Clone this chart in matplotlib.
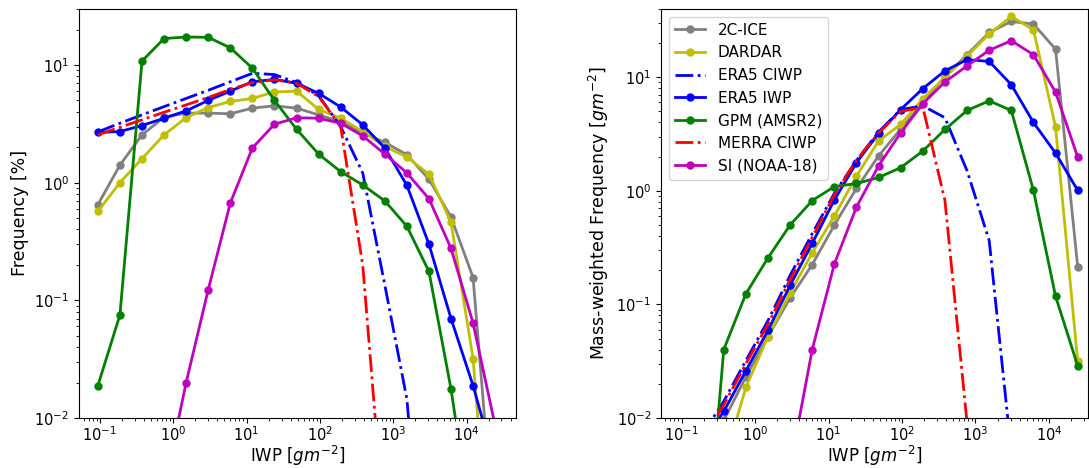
import matplotlib
matplotlib.use("Agg")
import matplotlib.pyplot as plt
import numpy as np

nan = np.nan

# IWP bin centres [g m^-2]
iwp = [0.09375, 0.1875, 0.375, 0.75, 1.5, 3, 6, 12, 24, 48, 96, 192, 384,
       768, 1536, 3072, 6144, 12288, 24576]

labels = ["2C-ICE", "DARDAR", "ERA5 CIWP", "ERA5 IWP", "GPM (AMSR2)",
          "MERRA CIWP", "SI (NOAA-18)"]

# left panel: frequency [%]
freq_2cice = [0.65, 1.41, 2.55, 3.6, 3.9, 3.9, 3.85, 4.3, 4.5, 4.3, 3.77, 3.3,
              2.64, 2.2, 1.73, 1.07, 0.51, 0.156, 0.0008]
freq_dardar = [0.57, 1.0, 1.6, 2.55, 3.57, 4.35, 4.9, 5.2, 5.9, 6.0, 4.2, 3.53,
               2.72, 2.03, 1.65, 1.18, 0.46, 0.032, 0.00013]
freq_era5_ciwp = [2.7, 3.2, 3.77, 4.43, 5.2, 6.1, 7.2, 8.5, 8.3, 7.1, 5.5, 3.0,
                  1.21, 0.135, 0.0145, 0.0001, nan, nan, nan]
freq_era5_iwp = [2.67, 2.72, 3.06, 3.53, 4.08, 5.0, 6.0, 7.2, 7.55, 7.0, 5.75,
                 4.4, 3.1, 1.97, 0.95, 0.30, 0.070, 0.0188, 0.004]
freq_gpm = [0.0188, 0.075, 10.8, 16.8, 17.3, 17.2, 14.0, 9.4, 5.0, 2.85, 1.75,
            1.24, 0.956, 0.70, 0.426, 0.176, 0.0176, 0.001, nan]
freq_merra = [2.55, 2.96, 3.42, 3.97, 4.58, 5.3, 6.2, 7.1, 7.5, 7.0, 5.4, 3.0,
              0.2, 0.001, nan, nan, nan, nan, nan]
freq_si = [nan, nan, nan, 0.0025, 0.020, 0.123, 0.67, 1.97, 3.14, 3.56, 3.53,
           3.2, 2.5, 1.75, 1.21, 0.73, 0.276, 0.064, 0.0086]

# right panel: mass-weighted frequency [g m^-2]
mw_2cice = [nan, 0.0005, 0.0095, 0.023, 0.052, 0.114, 0.224, 0.50, 1.05, 2.03,
            3.5, 5.95, 10.2, 15.8, 24.8, 31.0, 29.4, 17.7, 0.215]
mw_dardar = [nan, nan, 0.004, 0.0186, 0.052, 0.126, 0.284, 0.60, 1.35, 2.75,
             3.85, 6.45, 10.0, 15.3, 24.1, 34.3, 26.2, 3.67, 0.0318]
mw_era5_ciwp = [nan, 0.007, 0.014, 0.032, 0.072, 0.18, 0.42, 0.95, 1.85, 3.3,
                5.2, 5.6, 4.4, 1.5, 0.365, 0.005, nan, nan, nan]
mw_era5_iwp = [nan, 0.006, 0.0114, 0.026, 0.059, 0.147, 0.345, 0.83, 1.77, 3.2,
               5.2, 7.95, 11.4, 14.3, 13.8, 8.6, 4.0, 2.15, 1.01]
mw_gpm = [nan, 0.0002, 0.040, 0.124, 0.257, 0.50, 0.82, 1.09, 1.16, 1.31, 1.6,
          2.24, 3.47, 5.1, 6.2, 5.1, 1.01, 0.118, 0.0288]
mw_merra = [nan, 0.0065, 0.013, 0.03, 0.067, 0.165, 0.39, 0.92, 1.85, 3.25,
            5.0, 5.45, 0.82, 0.009, nan, nan, nan, nan, nan]
mw_si = [nan, nan, nan, nan, nan, 0.0037, 0.040, 0.227, 0.72, 1.66, 3.25, 5.85,
         9.1, 12.6, 17.3, 21.0, 15.8, 7.4, 1.99]

styles = [
    dict(color="grey", ls="-", marker="o"),
    dict(color="y", ls="-", marker="o"),
    dict(color="b", ls="-.", marker=None),
    dict(color="b", ls="-", marker="o"),
    dict(color="g", ls="-", marker="o"),
    dict(color="r", ls="-.", marker=None),
    dict(color="m", ls="-", marker="o"),
]

left_series = [freq_2cice, freq_dardar, freq_era5_ciwp, freq_era5_iwp,
               freq_gpm, freq_merra, freq_si]
right_series = [mw_2cice, mw_dardar, mw_era5_ciwp, mw_era5_iwp, mw_gpm,
                mw_merra, mw_si]

fig = plt.figure(figsize=(10.89, 4.68), dpi=100)
ax1 = fig.add_axes([0.0725, 0.107, 0.401, 0.874])
ax2 = fig.add_axes([0.607, 0.107, 0.392, 0.874])

for ax, series in ((ax1, left_series), (ax2, right_series)):
    for lab, vals, st in zip(labels, series, styles):
        ax.plot(iwp, vals, label=lab, lw=2, ms=5, **st)
    ax.set_xscale("log")
    ax.set_yscale("log")
    ax.set_xlabel("IWP [$gm^{-2}$]", fontsize=12, labelpad=0)
    ax.tick_params(labelsize=10.5)
    ax.tick_params(axis="x", pad=2)

ax1.set_xlim(10**-1.286, 10**4.67)
ax1.set_ylim(0.01, 30)
ax1.set_ylabel("Frequency [%]", fontsize=12.5)

ax2.set_xlim(10**-1.28, 10**4.53)
ax2.set_ylim(0.01, 40)
ax2.set_ylabel("Mass-weighted Frequency [$gm^{-2}$]", fontsize=12.5)
ax2.legend(loc="upper left", fontsize=11)

plt.savefig("out.png", dpi=100)
